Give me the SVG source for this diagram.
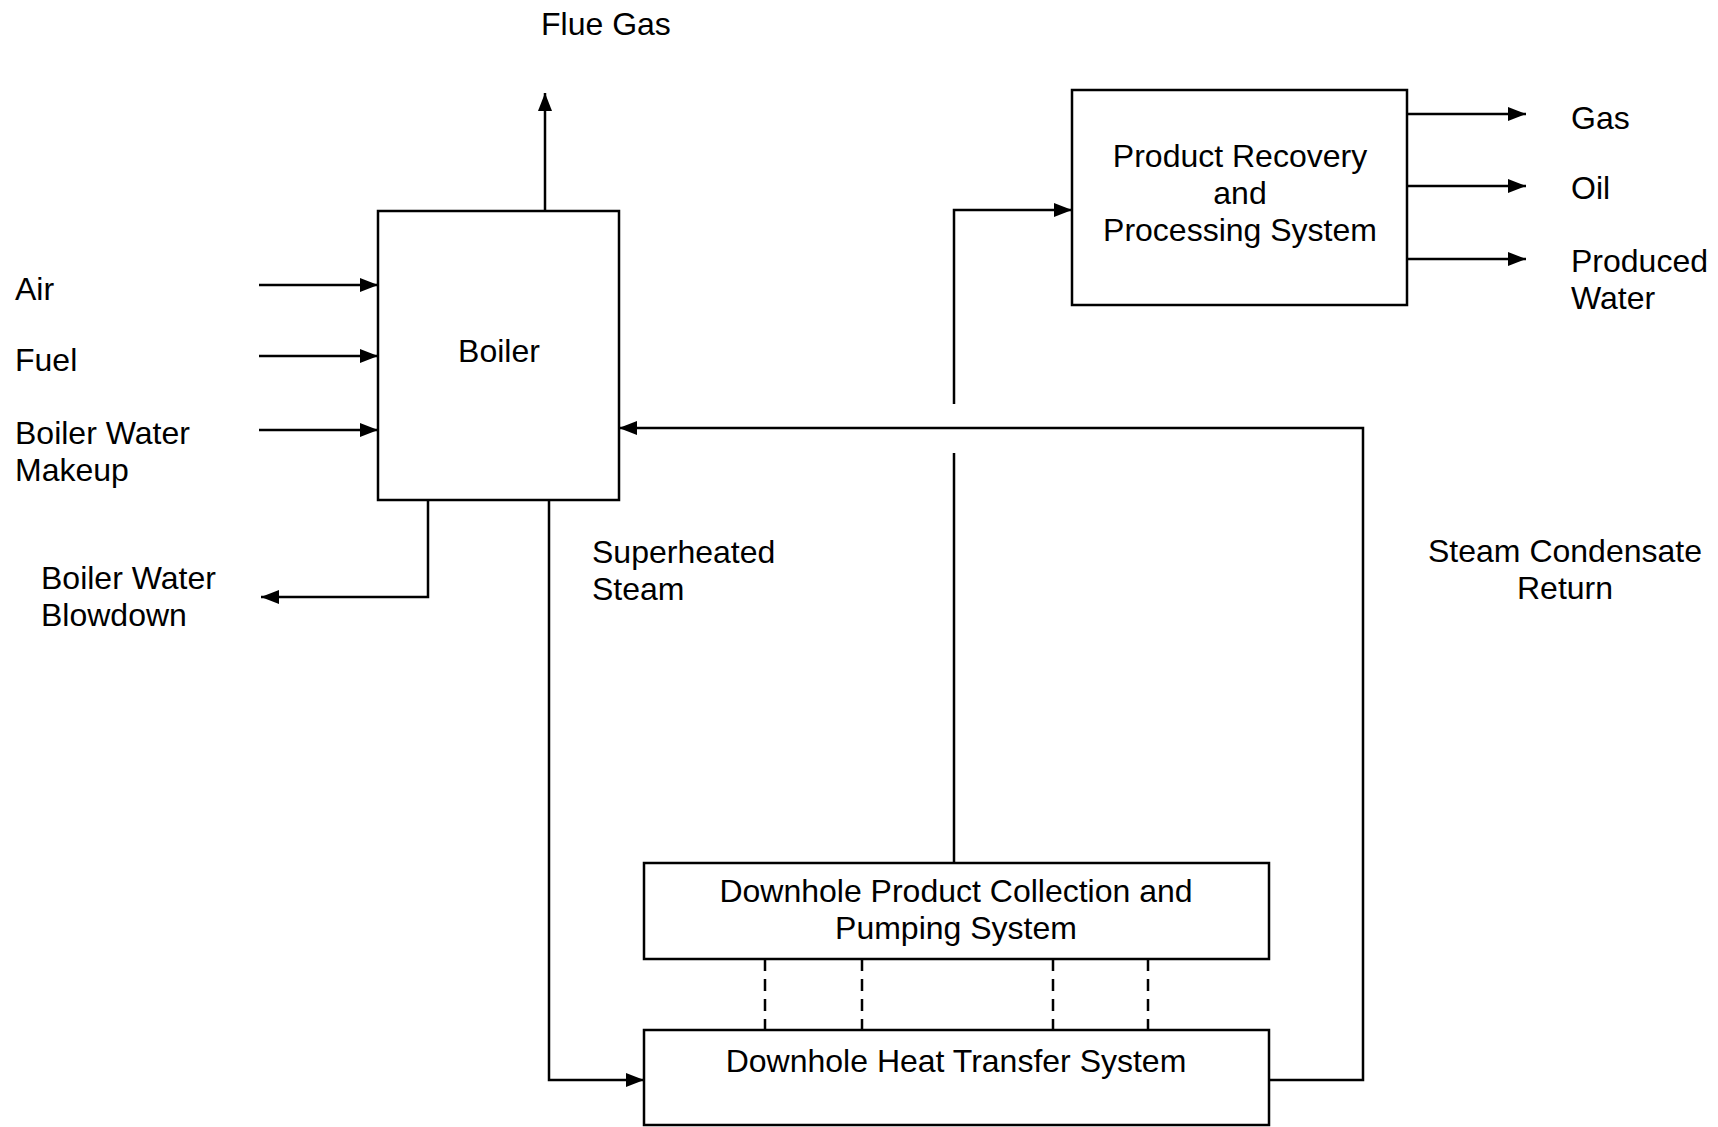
<svg xmlns="http://www.w3.org/2000/svg" width="1718" height="1127" viewBox="0 0 1718 1127">
<style>
.box{fill:#fff;stroke:#000;stroke-width:2.5}
.ln{fill:none;stroke:#000;stroke-width:2.5}
.dash{fill:none;stroke:#000;stroke-width:2.5;stroke-dasharray:12 8}
text{font-family:"Liberation Sans",Arial,sans-serif;font-size:32px;fill:#000}
.c{text-anchor:middle}
</style>
<defs>
<marker id="ah" viewBox="0 0 18 14" refX="18" refY="7" markerWidth="18" markerHeight="14" markerUnits="userSpaceOnUse" orient="auto">
<path d="M0,0 L18,7 L0,14 Z" fill="#000"/>
</marker>
</defs>
<rect width="1718" height="1127" fill="#fff"/>
<g id="connectors">
<path class="ln" d="M545,211 V93" marker-end="url(#ah)"/>
<path class="ln" d="M259,285 H378" marker-end="url(#ah)"/>
<path class="ln" d="M259,356 H378" marker-end="url(#ah)"/>
<path class="ln" d="M259,430 H378" marker-end="url(#ah)"/>
<path class="ln" d="M428,500 V597 H261" marker-end="url(#ah)"/>
<path class="ln" d="M549,500 V1080 H644" marker-end="url(#ah)"/>
<path class="ln" d="M1269,1080 H1363 V428 H619" marker-end="url(#ah)"/>
<path class="ln" d="M954,863 V453"/>
<path class="ln" d="M954,404 V210 H1072" marker-end="url(#ah)"/>
<path class="ln" d="M1407,114 H1526" marker-end="url(#ah)"/>
<path class="ln" d="M1407,186 H1526" marker-end="url(#ah)"/>
<path class="ln" d="M1407,259 H1526" marker-end="url(#ah)"/>
<path class="dash" d="M765,959 V1030 M862,959 V1030 M1053,959 V1030 M1148,959 V1030"/>
</g>
<g id="boiler">
<rect class="box" x="378" y="211" width="241" height="289"/>
<text class="c" x="499" y="362">Boiler</text>
</g>
<g id="product-recovery">
<rect class="box" x="1072" y="90" width="335" height="215"/>
<text class="c" x="1240" y="167">Product Recovery</text>
<text class="c" x="1240" y="204">and</text>
<text class="c" x="1240" y="241">Processing System</text>
</g>
<g id="collection">
<rect class="box" x="644" y="863" width="625" height="96"/>
<text class="c" x="956" y="902">Downhole Product Collection and</text>
<text class="c" x="956" y="939">Pumping System</text>
</g>
<g id="heat-transfer">
<rect class="box" x="644" y="1030" width="625" height="95"/>
<text class="c" x="956" y="1072">Downhole Heat Transfer System</text>
</g>
<g id="labels">
<text x="541" y="35">Flue Gas</text>
<text x="15" y="300">Air</text>
<text x="15" y="371">Fuel</text>
<text x="15" y="444">Boiler Water</text>
<text x="15" y="481">Makeup</text>
<text x="41" y="589">Boiler Water</text>
<text x="41" y="626">Blowdown</text>
<text x="592" y="563">Superheated</text>
<text x="592" y="600">Steam</text>
<text class="c" x="1565" y="562">Steam Condensate</text>
<text class="c" x="1565" y="599">Return</text>
<text x="1571" y="129">Gas</text>
<text x="1571" y="199">Oil</text>
<text x="1571" y="272">Produced</text>
<text x="1571" y="309">Water</text>
</g>
</svg>
